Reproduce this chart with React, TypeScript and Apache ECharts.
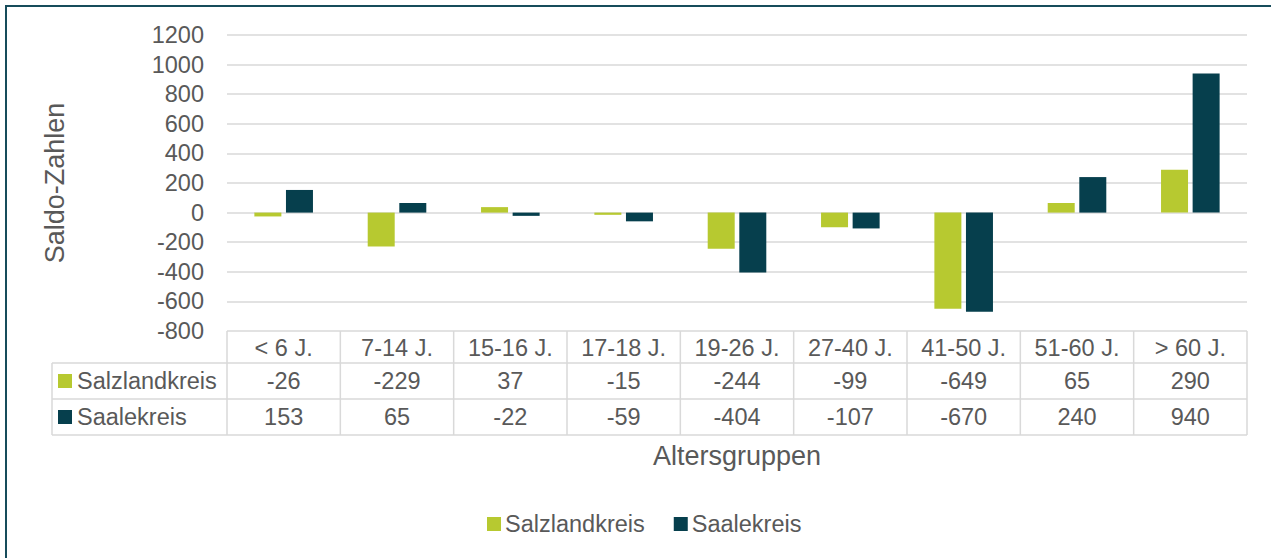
import React, { useEffect, useRef } from "react";
import * as echarts from "echarts";

const categories = ["< 6 J.", "7-14 J.", "15-16 J.", "17-18 J.", "19-26 J.", "27-40 J.", "41-50 J.", "51-60 J.", "> 60 J."];
const seriesNames = ["Salzlandkreis", "Saalekreis"];
const salzlandkreis = [-26, -229, 37, -15, -244, -99, -649, 65, 290];
const saalekreis = [153, 65, -22, -59, -404, -107, -670, 240, 940];
const yMin = -800;
const yMax = 1200;
const yInterval = 200;

const COLORS = ["#b7c930", "#063f4d"];
const TEXT = "#595959";
const LINE = "#d9d9d9";
const FONT = "'Liberation Sans', Arial, sans-serif";
const FS = 23.5;
const FS_TITLE = 27;

export default function App() {
  const ref = useRef<HTMLDivElement>(null);
  useEffect(() => {
    if (!ref.current) return;
    const chart = echarts.init(ref.current, null, { renderer: "svg" });
    chart.setOption({
      animation: false,
      textStyle: { fontFamily: FONT },
      grid: { left: 227, top: 35, width: 1020, height: 296, containLabel: false },
      legend: {
        data: seriesNames,
        left: 487,
        top: 512,
        padding: 0,
        icon: "rect",
        itemWidth: 14,
        itemHeight: 14,
        itemGap: 29,
        textStyle: { color: TEXT, fontSize: FS, fontFamily: FONT, padding: [0, 0, 0, -1] },
      },
      xAxis: {
        type: "category",
        data: categories,
        position: "bottom",
        axisLine: { show: false, onZero: false },
        axisTick: { show: false },
        splitLine: { show: false },
        axisLabel: {
          color: TEXT,
          fontSize: FS,
          fontFamily: FONT,
          margin: 17,
          verticalAlign: "middle",
          interval: 0,
        },
      },
      yAxis: {
        type: "value",
        min: yMin,
        max: yMax,
        interval: yInterval,
        axisLine: { show: false },
        axisTick: { show: false },
        axisLabel: {
          color: TEXT,
          fontSize: FS,
          fontFamily: FONT,
          margin: 23,
          formatter: (v: number) => String(v),
        },
        splitLine: { lineStyle: { color: LINE, width: 1.5 } },
      },
      series: [
        {
          name: seriesNames[0],
          type: "bar",
          data: salzlandkreis,
          barWidth: 27,
          barGap: "17%",
          itemStyle: { color: COLORS[0] },
        },
        {
          name: seriesNames[1],
          type: "bar",
          data: saalekreis,
          barWidth: 27,
          barGap: "17%",
          itemStyle: { color: COLORS[1] },
        },
      ],
    });

    const xs = categories.map((c, i) => chart.convertToPixel({ xAxisIndex: 0 }, i) as number);
    const cellW = xs[1] - xs[0];
    const top = chart.convertToPixel({ yAxisIndex: 0 }, yMin) as number;
    const rowH = [32, 36, 36];
    const y1 = top + rowH[0];
    const y2 = y1 + rowH[1];
    const y3 = y2 + rowH[2];
    const left = xs[0] - cellW / 2;
    const right = xs[xs.length - 1] + cellW / 2;
    const tableLeft = 52;
    const lineStyle = { stroke: LINE, lineWidth: 1.5 };

    const els: any[] = [];
    els.push({
      type: "rect",
      shape: { x: 6, y: 6, width: 1400, height: 800 },
      style: { fill: "none", stroke: "#174c5b", lineWidth: 2 },
      silent: true,
    });
    for (let i = 0; i <= categories.length; i++) {
      const x = left + i * cellW;
      els.push({ type: "line", shape: { x1: x, y1: top, x2: x, y2: y3 }, style: lineStyle, silent: true });
    }
    els.push({ type: "line", shape: { x1: tableLeft, y1: y1, x2: tableLeft, y2: y3 }, style: lineStyle, silent: true });
    [y1, y2, y3].forEach((y) => {
      els.push({ type: "line", shape: { x1: tableLeft, y1: y, x2: right, y2: y }, style: lineStyle, silent: true });
    });
    const rows = [salzlandkreis, saalekreis];
    rows.forEach((vals, r) => {
      const cy = r === 0 ? (y1 + y2) / 2 : (y2 + y3) / 2;
      els.push({
        type: "rect",
        shape: { x: 58, y: cy - 7, width: 14, height: 14 },
        style: { fill: COLORS[r] },
        silent: true,
      });
      els.push({
        type: "text",
        x: 77,
        y: cy,
        style: { text: seriesNames[r], fill: TEXT, fontSize: FS, fontFamily: FONT, align: "left", verticalAlign: "middle" },
        silent: true,
      });
      vals.forEach((v, i) => {
        els.push({
          type: "text",
          x: xs[i],
          y: cy,
          style: { text: String(v), fill: TEXT, fontSize: FS, fontFamily: FONT, align: "center", verticalAlign: "middle" },
          silent: true,
        });
      });
    });
    els.push({
      type: "text",
      x: (left + right) / 2,
      y: 456,
      style: { text: "Altersgruppen", fill: TEXT, fontSize: FS_TITLE, fontFamily: FONT, align: "center", verticalAlign: "middle" },
      silent: true,
    });
    els.push({
      type: "text",
      x: 55,
      y: 183,
      rotation: Math.PI / 2,
      style: { text: "Saldo-Zahlen", fill: TEXT, fontSize: FS_TITLE, fontFamily: FONT, align: "center", verticalAlign: "middle" },
      silent: true,
    });
    chart.setOption({ graphic: els });

    return () => chart.dispose();
  }, []);
  return (
    <div
      ref={ref}
      style={{ position: "absolute", left: 0, top: 0, width: 1271, height: 558, background: "#fff" }}
    />
  );
}
